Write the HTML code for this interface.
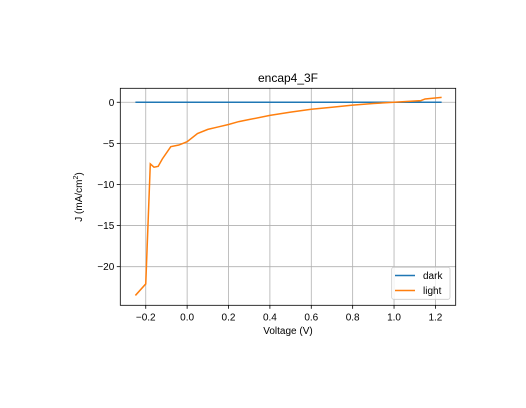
<!DOCTYPE html>
<html><head><meta charset="utf-8"><style>
body{margin:0;background:#fff}
svg{display:block;font-family:"Liberation Sans","DejaVu Sans",sans-serif}
</style></head><body>
<svg id="chart" width="526" height="408"></svg>
<script>
const darkV=[-0.25,1.23];
const darkJ=[0,0];
const lightV=[-0.25,-0.2,-0.178,-0.16,-0.14,-0.12,-0.079,-0.04,0,0.05,0.1,0.15,0.2,0.25,0.3,0.4,0.5,0.6,0.7,0.8,0.9,1.0,1.1,1.13,1.15,1.23];
const lightJ=[-23.5,-22.1,-7.5,-7.9,-7.8,-6.9,-5.4,-5.2,-4.8,-3.8,-3.3,-3.0,-2.7,-2.35,-2.1,-1.6,-1.2,-0.85,-0.6,-0.35,-0.15,0.0,0.15,0.2,0.4,0.6];
const xTicks=[-0.2,0.0,0.2,0.4,0.6,0.8,1.0,1.2];
const xTickLabels=["\u22120.2","0.0","0.2","0.4","0.6","0.8","1.0","1.2"];
const yTicks=[0,-5,-10,-15,-20];
const yTickLabels=["0","\u22125","\u221210","\u221215","\u221220"];

const L=120.3,R=455.7,T=88.3,B=305.3,xmin=-0.323,xmax=1.298,ymin=-24.7,ymax=1.70;
const sx=v=>L+(v-xmin)/(xmax-xmin)*(R-L);
const sy=v=>B-(v-ymin)/(ymax-ymin)*(B-T);
const svg=document.getElementById('chart');
const NS='http://www.w3.org/2000/svg';
function mk(tag,attrs,parent){const e=document.createElementNS(NS,tag);for(const k in attrs)e.setAttribute(k,attrs[k]);(parent||svg).appendChild(e);return e;}

xTicks.forEach((t,i)=>{
  const x=sx(t);
  const g=mk('line',{x1:x,x2:x,y1:T,y2:B,stroke:'#b0b0b0','stroke-width':0.8});
  
  
  mk('line',{x1:x,x2:x,y1:B,y2:B+3.5,stroke:'#000','stroke-width':0.8});
  const tx=mk('text',{x:x,y:B+15,'font-size':10,'text-anchor':'middle',fill:'#000'});
  tx.textContent=xTickLabels[i];
  
  
});
yTicks.forEach((t,i)=>{
  const y=sy(t);
  const g=mk('line',{x1:L,x2:R,y1:y,y2:y,stroke:'#b0b0b0','stroke-width':0.8});
  
  
  mk('line',{x1:L-3.5,x2:L,y1:y,y2:y,stroke:'#000','stroke-width':0.8});
  const tx=mk('text',{x:L-6,y:y+3.5,'font-size':10,'text-anchor':'end',fill:'#000'});
  tx.textContent=yTickLabels[i];
  
  
});
function line(V,J,color,name){
  const p=mk('polyline',{points:V.map((v,i)=>sx(v)+','+sy(J[i])).join(' '),fill:'none',stroke:color,'stroke-width':1.5});
  
  
}
line(darkV,darkJ,'#1f77b4','dark-series');
line(lightV,lightJ,'#ff7f0e','light-series');
const fr=mk('rect',{x:L,y:T,width:R-L,height:B-T,fill:'none',stroke:'#000','stroke-width':0.8});


</script>
<svg width="526" height="408" style="position:absolute;left:0;top:0;font-family:'Liberation Sans','DejaVu Sans',sans-serif">
<text x="288" y="82" font-size="12" text-anchor="middle">encap4_3F</text>
<text x="288" y="334" font-size="10" text-anchor="middle">Voltage (V)</text>
<text transform="translate(82,197) rotate(-90)" font-size="10" text-anchor="middle">J (mA/cm<tspan dy="-4" font-size="7">2</tspan><tspan dy="4">)</tspan></text>
<g>
<rect x="391.7" y="267.3" width="58.3" height="32" rx="2" fill="#fff" fill-opacity="0.8" stroke="#ccc" stroke-width="0.8"/>
<line x1="395" x2="415" y1="275.5" y2="275.5" stroke="#1f77b4" stroke-width="1.5"/>
<text x="423" y="279" font-size="10">dark</text>
<line x1="395" x2="415" y1="290.5" y2="290.5" stroke="#ff7f0e" stroke-width="1.5"/>
<text x="423" y="294" font-size="10">light</text>
</g>
</svg>
</body></html>
